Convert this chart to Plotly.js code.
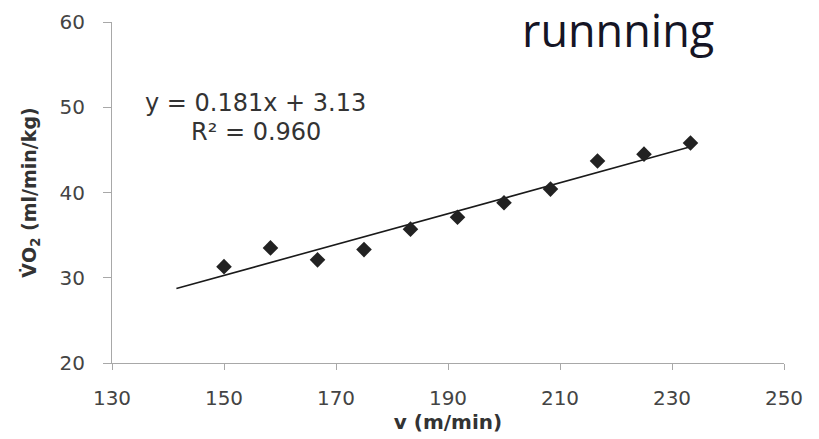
<!DOCTYPE html>
<html>
<head>
<meta charset="utf-8">
<script src="https://cdn.plot.ly/plotly-3.0.1.min.js"></script>
<style>html,body{margin:0;padding:0;background:#fff;}#chart{width:819px;height:439px;}</style>
</head>
<body>
<div id="chart"></div>
<script>
// Data
var speed = [150, 158.3, 166.7, 175, 183.3, 191.7, 200, 208.3, 216.7, 225, 233.3];
var vo2 = [31.3, 33.5, 32.1, 33.3, 35.7, 37.1, 38.8, 40.4, 43.7, 44.5, 45.8];
var slope = 0.181;
var intercept = 3.13;
var trendX = [141.5, 233.3];
var trendY = trendX.map(function (x) { return slope * x + intercept; });
var xTicks = [130, 150, 170, 190, 210, 230, 250];
var yTicks = [20, 30, 40, 50, 60];

var traces = [
  {
    x: trendX, y: trendY, type: 'scatter', mode: 'lines',
    line: {color: '#1a1a1a', width: 1.6}, hoverinfo: 'skip'
  },
  {
    x: speed, y: vo2, type: 'scatter', mode: 'markers',
    marker: {symbol: 'diamond', size: 12, color: '#222'}
  }
];

var FONT = 'DejaVu Sans, Liberation Sans, sans-serif';

var layout = {
  width: 819, height: 439,
  margin: {l: 112, r: 35, t: 22, b: 76},
  paper_bgcolor: '#ffffff', plot_bgcolor: '#ffffff',
  showlegend: false,
  font: {family: FONT, color: '#444'},
  xaxis: {
    range: [130, 250], tickvals: xTicks, ticktext: xTicks.map(String),
    showgrid: false, zeroline: false, showline: true, linecolor: '#a8a8a8', linewidth: 1,
    ticks: 'outside', ticklen: 6, tickcolor: '#a8a8a8', ticklabelstandoff: 11,
    tickfont: {family: FONT, size: 20, color: '#444'},
    title: {text: '<b>v (m/min)</b>', font: {family: FONT, size: 20, color: '#333'}, standoff: 0}
  },
  yaxis: {
    range: [20, 60], tickvals: yTicks, ticktext: yTicks.map(String),
    showgrid: false, zeroline: false, showline: true, linecolor: '#a8a8a8', linewidth: 1,
    ticks: 'outside', ticklen: 8, tickcolor: '#a8a8a8', ticklabelstandoff: 14,
    tickfont: {family: FONT, size: 20, color: '#444'},
    title: {text: '<b>V\u0307O<sub>2</sub> (ml/min/kg)</b>', font: {family: FONT, size: 19, color: '#333'}, standoff: 17}
  },
  annotations: [
    {
      text: 'runnning', xref: 'paper', yref: 'paper', x: 0.753, y: 0.977,
      xanchor: 'center', yanchor: 'middle', showarrow: false,
      font: {family: 'Open Sans, Liberation Sans, sans-serif', size: 45, color: '#151525'}
    },
    {
      text: 'y = 0.181x + 3.13', xref: 'x', yref: 'y', x: 155.7, y: 50.5,
      xanchor: 'center', yanchor: 'middle', showarrow: false,
      font: {family: FONT, size: 24, color: '#333'}
    },
    {
      text: 'R\u00b2 = 0.960', xref: 'x', yref: 'y', x: 155.8, y: 47.1,
      xanchor: 'center', yanchor: 'middle', showarrow: false,
      font: {family: FONT, size: 24, color: '#333'}
    }
  ]
};

Plotly.newPlot('chart', traces, layout, {displayModeBar: false, staticPlot: true});
</script>
</body>
</html>
